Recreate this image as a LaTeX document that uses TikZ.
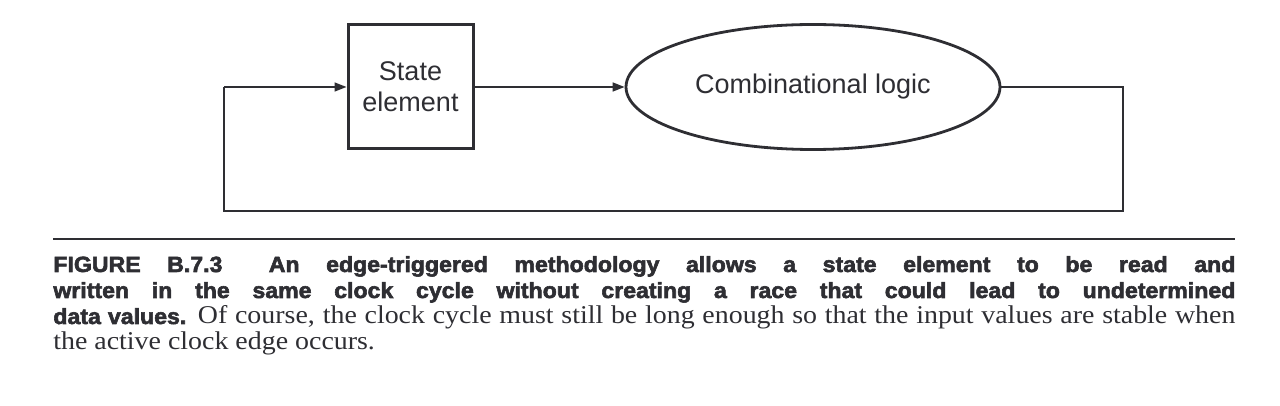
\documentclass[tikz,border=0pt]{standalone}
\usepackage{fontspec}
\setmainfont{Liberation Serif}[FakeStretch=1.09]
\newfontfamily\diagfont{Liberation Sans}
\newfontfamily\capbold[FakeStretch=1.05,FakeBold=2.6]{Liberation Sans Bold}
\usetikzlibrary{arrows.meta,shapes.geometric}
\definecolor{ink}{HTML}{2E2E33}
\begin{document}
\begin{tikzpicture}[x=0.5pt,y=-0.5pt,
  wire/.style={draw=ink,line width=0.8pt},
  arr/.style={wire,-{Triangle[length=6pt,width=4.5pt]}},
  stbox/.style={draw=ink,line width=1.5pt,minimum width=62.5pt,minimum height=62pt,inner sep=0pt,
    font=\diagfont\fontsize{13.5}{15.5}\selectfont,text=ink,align=center},
  logic/.style={ellipse,draw=ink,line width=1.4pt,minimum width=187pt,minimum height=62.5pt,inner sep=0pt,
    font=\diagfont\fontsize{13.5}{15.5}\selectfont,text=ink},
]
\useasboundingbox (0,0) rectangle (1280,406);
\node[stbox] (se) at (410.5,87) {State\\element};
\node[logic] (cl) at (813,87) {Combinational logic};
\coordinate (r1) at (1123,87);
\coordinate (r2) at (1123,211);
\coordinate (l2) at (224,211);
\coordinate (l1) at (224,87);
\draw[arr] (se.east) -- (cl.west);
\draw[wire] (cl.east) -- (r1) -- (r2) -- (l2) -- (l1);
\draw[arr] (l1) -- (se.west);
\coordinate (rule1) at (53,239);
\coordinate (rule2) at (1235,239);
\draw[draw=ink,line width=0.8pt] (rule1) -- (rule2);
\node[anchor=base west,inner sep=0pt,text=ink] (cap) at (53,272) {\parbox[t]{591pt}{\fontsize{12.8}{13}\selectfont
{\capbold\fontsize{11}{13}\selectfont FIGURE B.7.3\hspace{0.9em} An edge-triggered methodology allows a state element to be read and\linebreak
written in the same clock cycle without creating a race that could lead to undetermined\linebreak
data values.} Of course, the clock cycle must still be long enough so that the input values are stable when\linebreak
the active clock edge occurs.}};
\end{tikzpicture}
\end{document}
